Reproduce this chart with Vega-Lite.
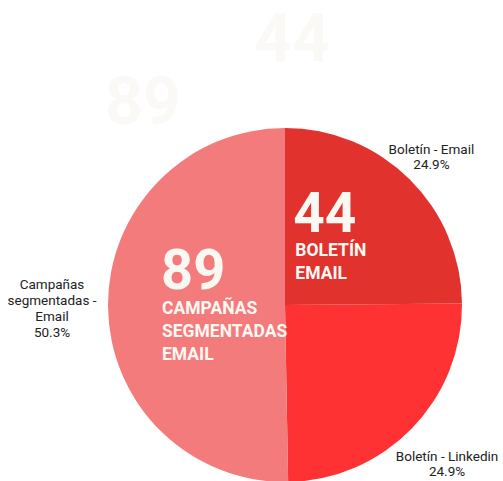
{
  "$schema": "https://vega.github.io/schema/vega-lite/v6.json",
  "width": 354,
  "height": 354,
  "autosize": {"type": "none"},
  "padding": {"left": 108, "top": 128, "right": 41, "bottom": 0},
  "background": "#ffffff",
  "config": {"view": {"stroke": null}, "font": "Roboto"},
  "data": {
    "values": [
      {"category": "Boletín - Email", "value": 44, "order": 1, "label": "Boletín - Email", "short": "BOLETÍN\nEMAIL"},
      {"category": "Boletín - Linkedin", "value": 44, "order": 2, "label": "Boletín - Linkedin", "short": ""},
      {"category": "Campañas segmentadas - Email", "value": 89, "order": 3, "label": "Campañas\nsegmentadas -\nEmail", "short": "CAMPAÑAS\nSEGMENTADAS\nEMAIL"}
    ]
  },
  "transform": [
    {"joinaggregate": [{"op": "sum", "field": "value", "as": "total"}]},
    {"calculate": "datum.label + '\\n' + format(datum.value / datum.total, '.1%')", "as": "outer"},
    {"calculate": "datum.category === 'Boletín - Email' ? datum.outer : ''", "as": "o1"},
    {"calculate": "datum.category === 'Boletín - Linkedin' ? datum.outer : ''", "as": "o2"},
    {"calculate": "datum.category === 'Campañas segmentadas - Email' ? datum.outer : ''", "as": "o3"},
    {"calculate": "datum.category === 'Boletín - Email' ? '' + datum.value : ''", "as": "n1"},
    {"calculate": "datum.category === 'Boletín - Email' ? datum.short : ''", "as": "s1"},
    {"calculate": "datum.category === 'Campañas segmentadas - Email' ? '' + datum.value : ''", "as": "n3"},
    {"calculate": "datum.category === 'Campañas segmentadas - Email' ? datum.short : ''", "as": "s3"}
  ],
  "encoding": {
    "theta": {"field": "value", "type": "quantitative", "stack": true},
    "order": {"field": "order", "type": "quantitative"},
    "detail": {"field": "category", "type": "nominal"}
  },
  "layer": [
    {
      "mark": {"type": "arc"},
      "encoding": {
        "color": {
          "field": "category",
          "type": "nominal",
          "scale": {
            "domain": ["Boletín - Email", "Boletín - Linkedin", "Campañas segmentadas - Email"],
            "range": ["#e1322d", "#fe3232", "#f47b7b"]
          },
          "legend": null
        }
      }
    },
    {
      "mark": {"type": "text", "radius": 208, "dy": -7, "fontSize": 13.5, "lineBreak": "\n", "lineHeight": 15, "color": "#222222", "align": "center", "baseline": "middle"},
      "encoding": {"text": {"field": "o1", "type": "nominal"}}
    },
    {
      "mark": {"type": "text", "radius": 208, "dx": 13, "dy": 7, "fontSize": 13.5, "lineBreak": "\n", "lineHeight": 15, "color": "#222222", "align": "center", "baseline": "middle"},
      "encoding": {"text": {"field": "o2", "type": "nominal"}}
    },
    {
      "mark": {"type": "text", "radius": 233, "dy": -22, "fontSize": 13.5, "lineBreak": "\n", "lineHeight": 16, "color": "#222222", "align": "center", "baseline": "middle"},
      "encoding": {"text": {"field": "o3", "type": "nominal"}}
    },
    {
      "mark": {"type": "text", "radius": 80, "dx": -48, "dy": -16, "fontSize": 55, "fontWeight": "bold", "color": "#faf8f3", "align": "left", "baseline": "alphabetic"},
      "encoding": {"text": {"field": "n1", "type": "nominal"}}
    },
    {
      "mark": {"type": "text", "radius": 80, "dx": -87, "dy": -187, "fontSize": 66, "fontWeight": "bold", "color": "#fbf9f5", "align": "left", "baseline": "alphabetic"},
      "encoding": {"text": {"field": "n1", "type": "nominal"}}
    },
    {
      "mark": {"type": "text", "radius": 80, "dx": -46, "dy": 8, "fontSize": 17.5, "fontWeight": "bold", "lineBreak": "\n", "lineHeight": 23, "color": "#faf8f3", "align": "left", "baseline": "alphabetic"},
      "encoding": {"text": {"field": "s1", "type": "nominal"}}
    },
    {
      "mark": {"type": "text", "radius": 80, "dx": -44, "dy": -17, "fontSize": 56, "fontWeight": "bold", "color": "#faf8f3", "align": "left", "baseline": "alphabetic"},
      "encoding": {"text": {"field": "n3", "type": "nominal"}}
    },
    {
      "mark": {"type": "text", "radius": 80, "dx": -100, "dy": -182, "fontSize": 66, "fontWeight": "bold", "color": "#fbf9f5", "align": "left", "baseline": "alphabetic"},
      "encoding": {"text": {"field": "n3", "type": "nominal"}}
    },
    {
      "mark": {"type": "text", "radius": 80, "dx": -43, "dy": 8, "fontSize": 17.5, "fontWeight": "bold", "lineBreak": "\n", "lineHeight": 23, "color": "#faf8f3", "align": "left", "baseline": "alphabetic"},
      "encoding": {"text": {"field": "s3", "type": "nominal"}}
    }
  ]
}
